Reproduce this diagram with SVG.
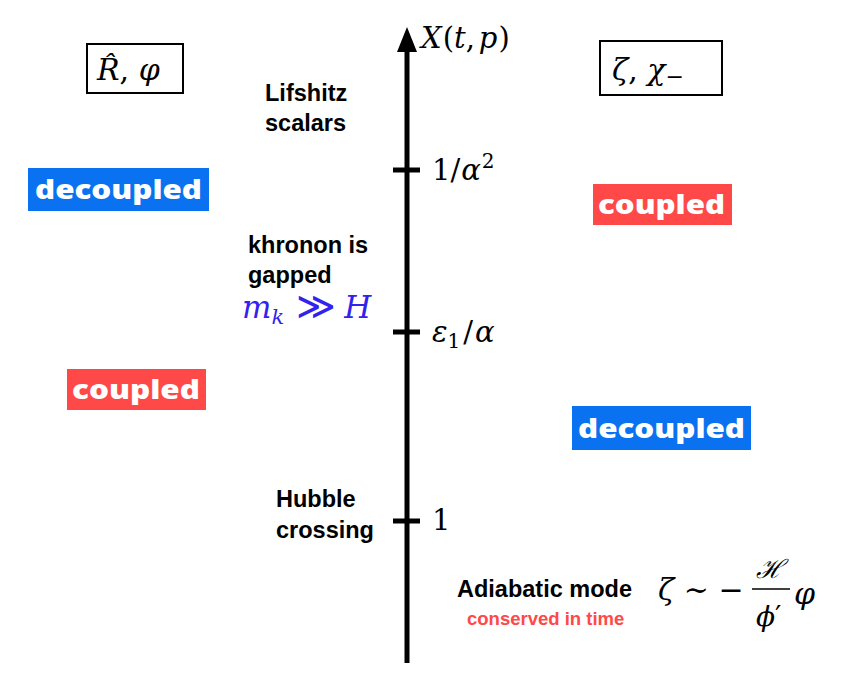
<svg xmlns="http://www.w3.org/2000/svg" width="842" height="681" viewBox="0 0 842 681">
<style>
.lbl{font-family:"Liberation Sans",Arial,sans-serif;font-weight:bold;font-size:23.5px;fill:#000}
.math{font-family:"DejaVu Serif","Liberation Serif",serif;font-style:italic;fill:#000}
.num{font-family:"DejaVu Serif","Liberation Serif",serif;fill:#000}
.tag{font-family:"Open Sans","DejaVu Sans",sans-serif;font-weight:800;font-size:26px;fill:#fff}
.blue{fill:#0a72f0}
.red{fill:#ff4848}
.box{fill:#fff;stroke:#000;stroke-width:2}
</style>
<rect width="842" height="681" fill="#fff"/>
<g id="axis">
<line x1="407" y1="663" x2="407" y2="48" stroke="#000" stroke-width="5"/>
<polygon points="407,27 397,52 417,52" fill="#000"/>
<line x1="393" y1="170" x2="420" y2="170" stroke="#000" stroke-width="5"/>
<line x1="393" y1="332" x2="420" y2="332" stroke="#000" stroke-width="5"/>
<line x1="393" y1="521" x2="420" y2="521" stroke="#000" stroke-width="5"/>
<text class="math" x="421" y="48" font-size="29">X<tspan class="num" font-style="normal" dx="1">(</tspan>t<tspan class="num" font-style="normal">,</tspan><tspan dx="4">p</tspan><tspan class="num" font-style="normal" dx="1">)</tspan></text>
<text class="num" x="432" y="180" font-size="29">1/<tspan font-style="italic" dx="1">α</tspan><tspan font-size="20" dy="-12" dx="1">2</tspan></text>
<text class="math" x="432" y="342" font-size="29">ε<tspan font-style="normal" font-size="20" dy="6">1</tspan><tspan font-style="normal" dy="-6" dx="3">/</tspan><tspan dx="2">α</tspan></text>
<text class="num" x="432" y="530" font-size="29">1</text>
</g>
<g id="left-header">
<rect class="box" x="87" y="44" width="96" height="49"/>
<text class="math" x="97" y="80" font-size="30">R̂<tspan font-style="normal">,</tspan> φ</text>
</g>
<g id="right-header">
<rect class="box" x="600" y="41" width="122" height="54"/>
<text class="math" x="612" y="80" font-size="30">ζ<tspan font-style="normal">,</tspan> χ<tspan font-style="normal" font-size="22" dy="4">−</tspan></text>
</g>
<g id="left-decoupled">
<rect class="blue" x="28" y="168" width="181" height="43"/>
<text class="tag" x="35" y="199" textLength="167" lengthAdjust="spacingAndGlyphs">decoupled</text>
</g>
<g id="right-coupled">
<rect class="red" x="593" y="184" width="139" height="41"/>
<text class="tag" x="598" y="214" textLength="127" lengthAdjust="spacingAndGlyphs">coupled</text>
</g>
<g id="left-coupled">
<rect class="red" x="67" y="369" width="139" height="41"/>
<text class="tag" x="72" y="399" textLength="128" lengthAdjust="spacingAndGlyphs">coupled</text>
</g>
<g id="right-decoupled">
<rect class="blue" x="572" y="406" width="179" height="44"/>
<text class="tag" x="578" y="438" textLength="167" lengthAdjust="spacingAndGlyphs">decoupled</text>
</g>
<g id="lifshitz">
<text class="lbl" x="265" y="101">Lifshitz</text>
<text class="lbl" x="265" y="131">scalars</text>
</g>
<g id="khronon">
<text class="lbl" x="248" y="253">khronon is</text>
<text class="lbl" x="248" y="283">gapped</text>
<text class="math" x="242" y="318" font-size="31" style="fill:#3322ee">m<tspan font-size="21" dy="6">k</tspan><tspan font-style="normal" font-size="38" dy="-5" dx="12">≫</tspan><tspan dy="-1" dx="8">H</tspan></text>
</g>
<g id="hubble">
<text class="lbl" x="276" y="507">Hubble</text>
<text class="lbl" x="276" y="538">crossing</text>
</g>
<g id="adiabatic">
<text class="lbl" x="457" y="597">Adiabatic mode</text>
<text x="467" y="625" font-family="Liberation Sans,Arial,sans-serif" font-weight="bold" font-size="18.5" fill="#ff4848">conserved in time</text>
<text class="math" x="658" y="600" font-size="30">ζ<tspan font-style="normal"> ∼ −</tspan></text>
<text class="math" x="756" y="578" font-size="26">ℋ</text>
<line x1="752" y1="589" x2="790" y2="589" stroke="#000" stroke-width="1.5"/>
<text class="math" x="756" y="626" font-size="28">ϕ<tspan font-style="normal">′</tspan></text>
<text class="math" x="794" y="604" font-size="30">φ</text>
</g>
</svg>
